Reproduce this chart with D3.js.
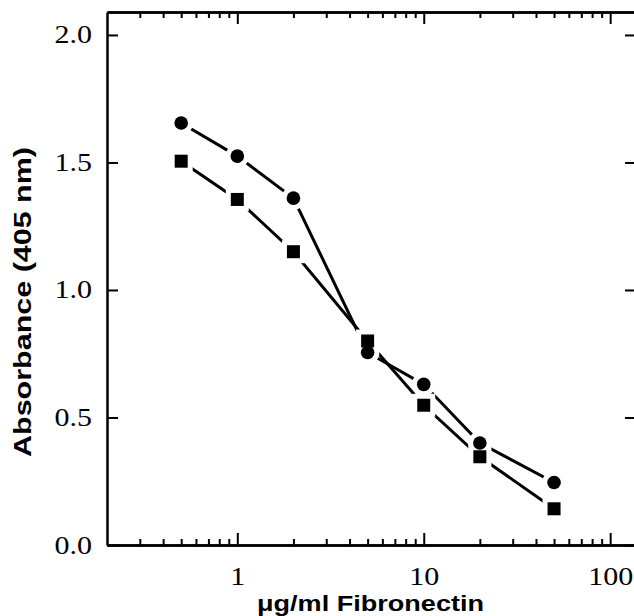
<!DOCTYPE html>
<html>
<head>
<meta charset="utf-8">
<script src="https://cdn.jsdelivr.net/npm/d3@7"></script>
<style>
html,body{margin:0;padding:0;background:#fff;}
svg{display:block;}
</style>
</head>
<body>
<svg id="chart" width="634" height="616"></svg>
<script>
// Data
const concentrations = [0.5, 1, 2, 5, 10, 20, 50];
const seriesCircle = [1.655, 1.525, 1.36, 0.755, 0.63, 0.40, 0.245];
const seriesSquare = [1.505, 1.355, 1.15, 0.80, 0.548, 0.346, 0.142];
const xMajorTicks = [1, 10, 100];
const xMinorTicks = [0.3,0.4,0.5,0.6,0.7,0.8,0.9,2,3,4,5,6,7,8,9,20,30,40,50,60,70,80,90];
const yTicks = [0.0, 0.5, 1.0, 1.5, 2.0];
const xTitle = "\u03bcg/ml Fibronectin";
const yTitle = "Absorbance  (405 nm)";

const svg = d3.select("#chart");
const L = 107, R = 643, T = 12, B = 545;
const x = d3.scaleLog().domain([0.2, 150]).range([L, R]);
const y = d3.scaleLinear().domain([0, 2.09]).range([B, T]);

const serif = "'Liberation Serif','Times New Roman',serif";
const sans = "'Liberation Sans',Arial,Helvetica,sans-serif";
const STRETCH = 1.2;

function widen(sel) {
  sel.each(function () {
    const w = this.getComputedTextLength();
    d3.select(this).attr("textLength", w * STRETCH).attr("lengthAdjust", "spacingAndGlyphs");
  });
}

// Axes
function styleAxis(g, sw) {
  g.select(".domain").attr("stroke", "#000").attr("stroke-width", sw);
  g.selectAll(".tick line").attr("stroke", "#000").attr("stroke-width", 2);
}
// bottom major
const gB = svg.append("g").attr("transform", `translate(0,${B})`)
  .call(d3.axisBottom(x).tickValues(xMajorTicks).tickSize(-12).tickSizeOuter(0).tickPadding(22)
    .tickFormat(d3.format("d")));
styleAxis(gB, 2.5);
gB.selectAll(".tick text").attr("font-family", serif).attr("font-size", 25).attr("fill", "#000").call(widen);
const gBm = svg.append("g").attr("transform", `translate(0,${B})`)
  .call(d3.axisBottom(x).tickValues(xMinorTicks).tickSize(-6).tickSizeOuter(0).tickFormat(""));
styleAxis(gBm, 2.5);
// top
const gT = svg.append("g").attr("transform", `translate(0,${T})`)
  .call(d3.axisTop(x).tickValues(xMajorTicks).tickSize(-12).tickSizeOuter(0).tickFormat(""));
styleAxis(gT, 2.5);
const gTm = svg.append("g").attr("transform", `translate(0,${T})`)
  .call(d3.axisTop(x).tickValues(xMinorTicks).tickSize(-6).tickSizeOuter(0).tickFormat(""));
styleAxis(gTm, 2.5);
// left
const gL = svg.append("g").attr("transform", `translate(${L},0)`)
  .call(d3.axisLeft(y).tickValues(yTicks).tickSize(-11).tickSizeOuter(0).tickPadding(15)
    .tickFormat(d3.format(".1f")));
styleAxis(gL, 2.5);
gL.selectAll(".tick text").attr("font-family", serif).attr("font-size", 25).attr("fill", "#000").call(widen);
// right
const gR = svg.append("g").attr("transform", `translate(${R - 7},0)`)
  .call(d3.axisRight(y).tickValues(yTicks).tickSize(-11).tickSizeOuter(0).tickFormat(""));
styleAxis(gR, 2.5);

// Lines
const line = d3.line().x(d => x(d[0])).y(d => y(d[1]));
const sets = [
  {vals: seriesCircle, shape: "circle"},
  {vals: seriesSquare, shape: "square"}
];
sets.forEach(s => {
  svg.append("path").datum(concentrations.map((c, i) => [c, s.vals[i]]))
    .attr("d", line).attr("fill", "none").attr("stroke", "#000").attr("stroke-width", 3);
});
function drawMarkers(s, stroke, sw) {
  const pts = concentrations.map((c, i) => [c, s.vals[i]]);
  if (s.shape === "circle") {
    svg.append("g").selectAll("circle").data(pts).join("circle")
      .attr("cx", d => x(d[0])).attr("cy", d => y(d[1])).attr("r", 6.8)
      .attr("fill", "#000").attr("stroke", stroke).attr("stroke-width", sw);
  } else {
    svg.append("g").selectAll("rect").data(pts).join("rect")
      .attr("x", d => x(d[0]) - 6.5).attr("y", d => y(d[1]) - 6.5)
      .attr("width", 13).attr("height", 13)
      .attr("fill", "#000").attr("stroke", stroke).attr("stroke-width", sw);
  }
}
sets.forEach(s => drawMarkers(s, "#fff", 10));
sets.forEach(s => drawMarkers(s, "none", 0));

// Titles
svg.append("text").attr("x", 257).attr("y", 611)
  .attr("font-family", sans).attr("font-weight", "bold")
  .attr("font-size", 22).attr("textLength", 227).attr("lengthAdjust", "spacingAndGlyphs")
  .text(xTitle);
svg.append("text").attr("transform", `translate(31,302) rotate(-90)`)
  .attr("text-anchor", "middle").attr("font-family", sans).attr("font-weight", "bold")
  .attr("font-size", 23).attr("textLength", 310).attr("lengthAdjust", "spacingAndGlyphs")
  .text(yTitle);
</script>
</body>
</html>
